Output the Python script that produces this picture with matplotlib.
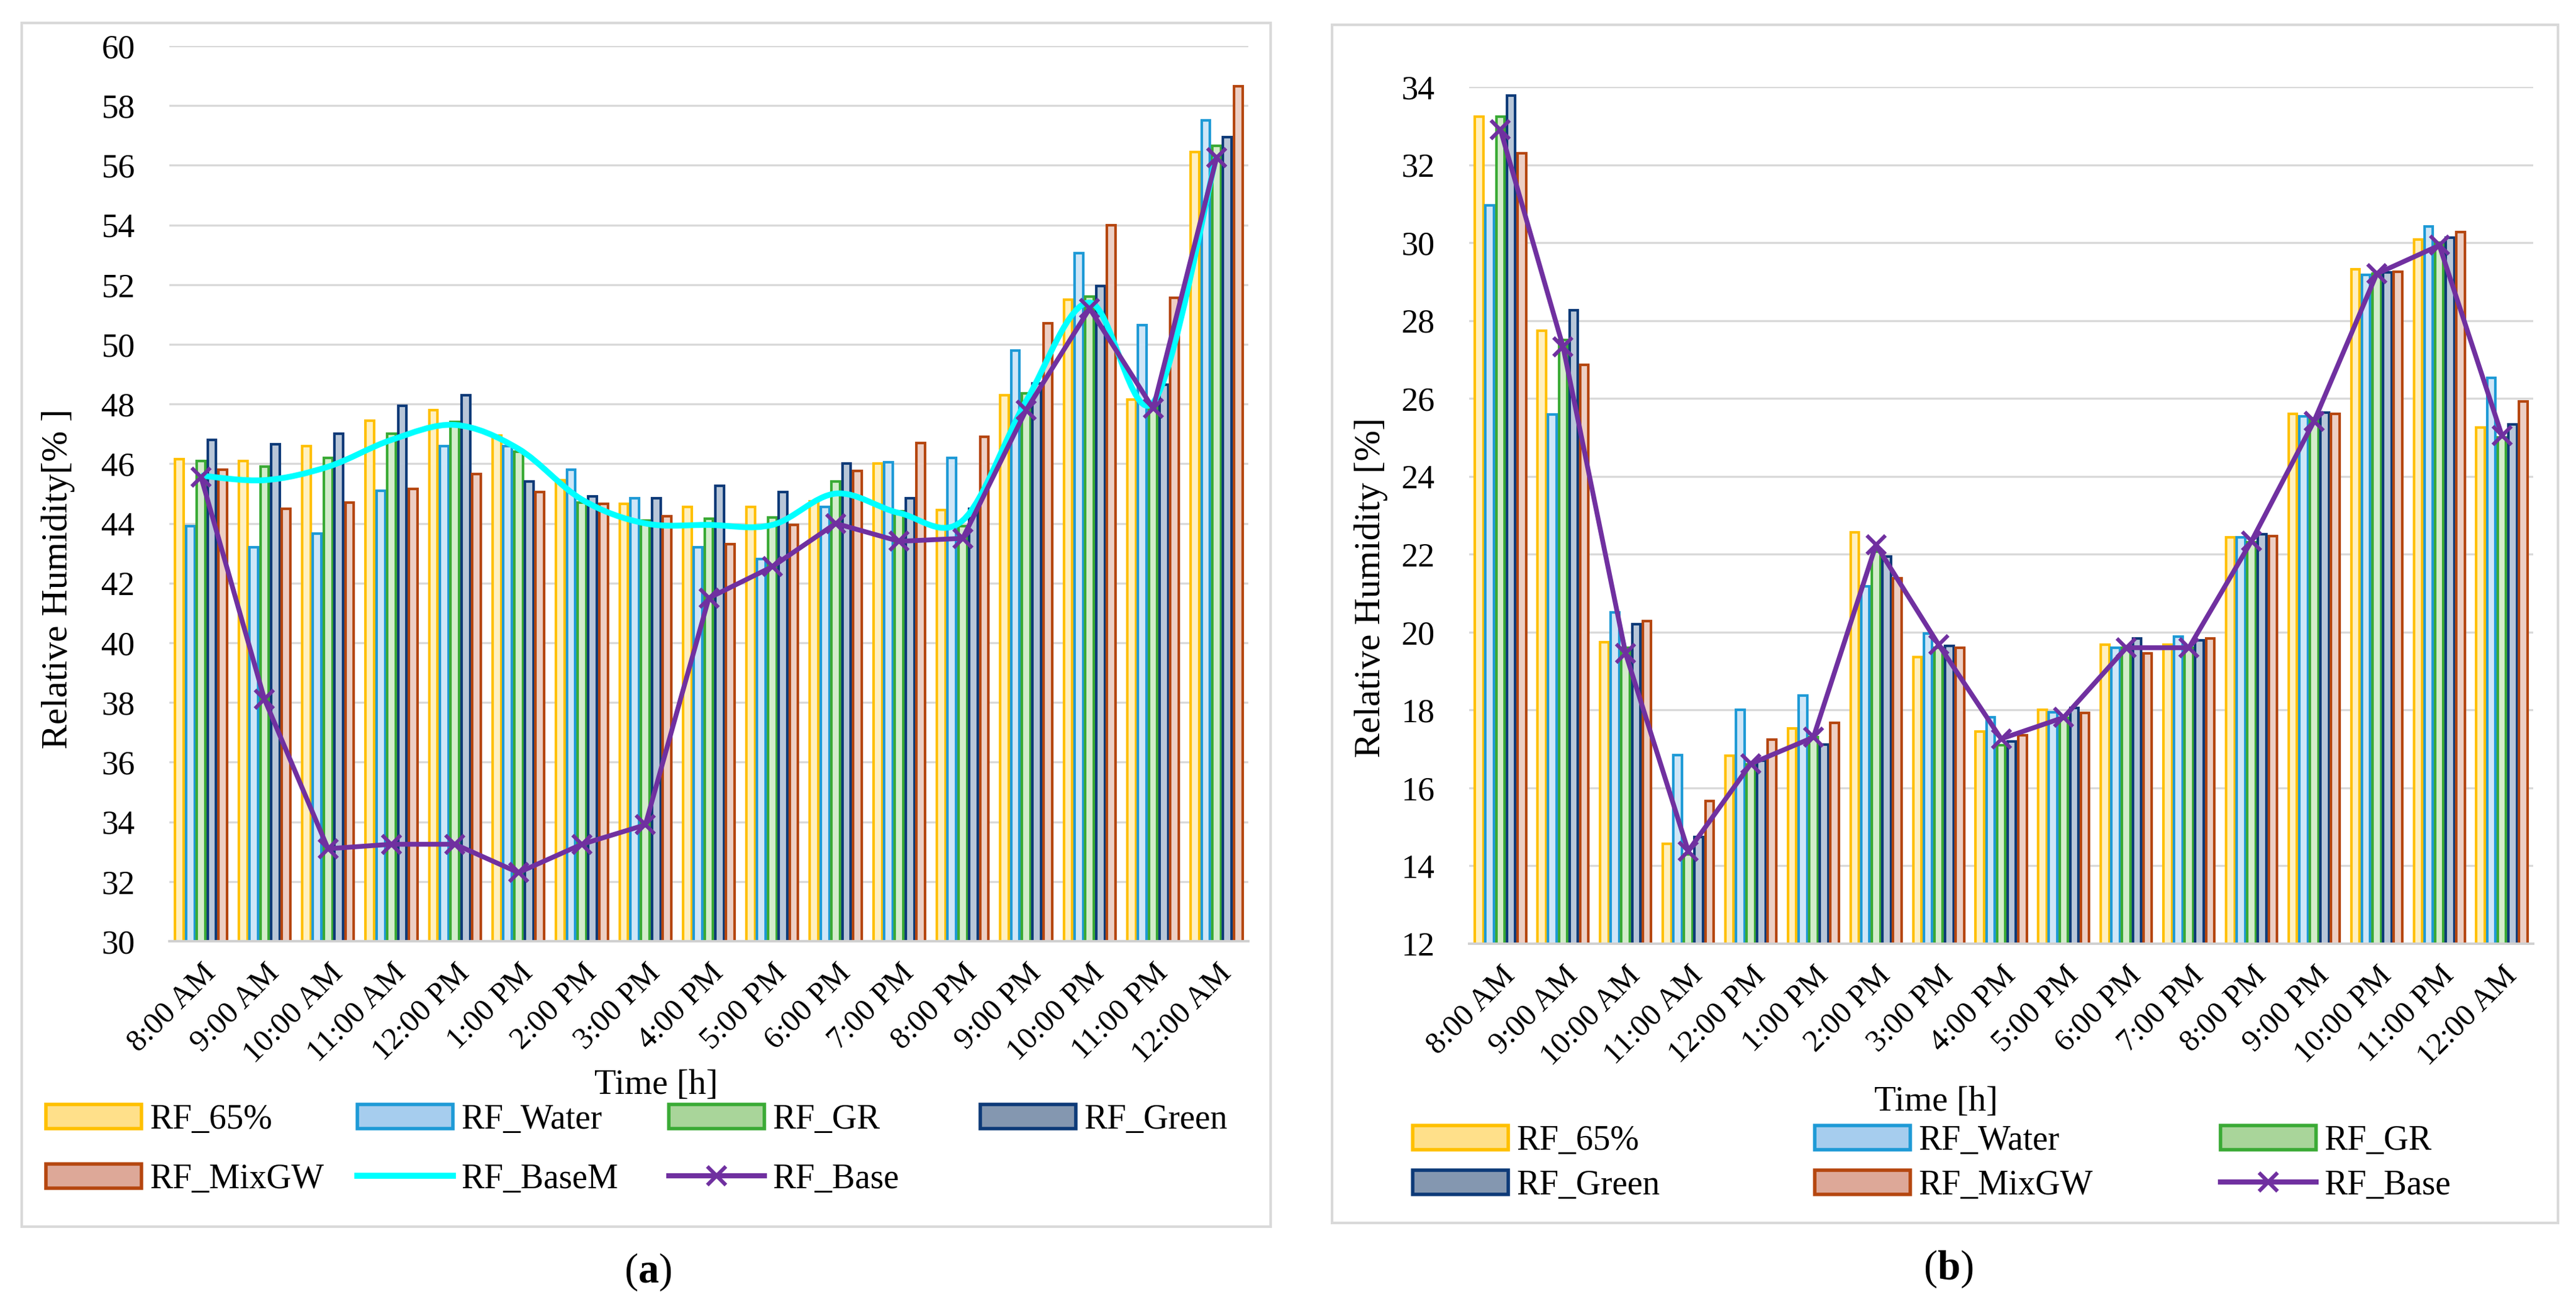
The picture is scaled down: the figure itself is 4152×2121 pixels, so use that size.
import matplotlib
matplotlib.use("Agg")
import matplotlib.pyplot as plt
from matplotlib.patches import Rectangle, Patch, PathPatch
from matplotlib.lines import Line2D
from matplotlib.path import Path
import numpy as np

plt.rcParams["font.family"] = ["Liberation Serif", "DejaVu Serif"]
plt.rcParams["mathtext.fontset"] = "custom"
plt.rcParams["mathtext.rm"] = "Liberation Serif"
plt.rcParams["mathtext.bf"] = "Liberation Serif:bold"

times = ["8:00 AM", "9:00 AM", "10:00 AM", "11:00 AM", "12:00 PM", "1:00 PM",
         "2:00 PM", "3:00 PM", "4:00 PM", "5:00 PM", "6:00 PM", "7:00 PM",
         "8:00 PM", "9:00 PM", "10:00 PM", "11:00 PM", "12:00 AM"]

# panel (a)
a_rf65 = [46.15, 46.1, 46.6, 47.45, 47.8, 46.95, 45.45, 44.65, 44.55, 44.55, 44.75, 46.0, 44.45, 48.3, 51.5, 48.15, 56.45]
a_water = [43.9, 43.2, 43.65, 45.1, 46.6, 46.6, 45.8, 44.85, 43.2, 42.8, 44.55, 46.05, 46.2, 49.8, 53.05, 50.65, 57.5]
a_gr = [46.1, 45.9, 46.2, 47.0, 47.4, 46.4, 44.7, 44.1, 44.15, 44.2, 45.4, 44.4, 43.9, 48.35, 51.6, 48.0, 56.65]
a_green = [46.8, 46.65, 47.0, 47.95, 48.3, 45.4, 44.9, 44.85, 45.25, 45.05, 46.0, 44.85, 44.5, 48.7, 51.95, 48.65, 56.95]
a_mixgw = [45.8, 44.5, 44.7, 45.15, 45.65, 45.05, 44.65, 44.25, 43.3, 43.95, 45.75, 46.7, 46.9, 50.7, 54.0, 51.55, 58.65]
a_basem = [45.6, 45.45, 45.9, 46.8, 47.3, 46.5, 44.8, 44.0, 43.95, 43.95, 45.0, 44.35, 44.1, 48.1, 51.4, 48.05, 56.35]
a_base = [45.55, 38.1, 33.1, 33.25, 33.25, 32.3, 33.25, 33.9, 41.5, 42.55, 44.0, 43.4, 43.5, 47.8, 51.2, 47.85, 56.25]

# panel (b)
b_rf65 = [33.24, 27.74, 19.75, 14.56, 16.83, 17.53, 22.56, 19.36, 17.45, 18.01, 19.68, 19.68, 22.43, 25.6, 29.32, 30.08, 25.26]
b_water = [30.95, 25.59, 20.5, 16.85, 18.0, 18.38, 21.17, 19.96, 17.81, 17.95, 19.6, 19.88, 22.43, 25.54, 29.17, 30.42, 26.53]
b_gr = [33.24, 27.5, 19.6, 14.3, 16.6, 17.3, 22.07, 19.6, 17.1, 17.8, 19.6, 19.6, 22.3, 25.5, 29.2, 30.0, 25.0]
b_green = [33.78, 28.27, 20.21, 14.74, 16.7, 17.12, 21.94, 19.64, 17.2, 18.05, 19.83, 19.79, 22.52, 25.64, 29.24, 30.13, 25.34]
b_mixgw = [32.29, 26.87, 20.28, 15.66, 17.24, 17.67, 21.38, 19.6, 17.35, 17.92, 19.46, 19.84, 22.47, 25.6, 29.26, 30.27, 25.92]
b_base = [32.9, 27.33, 19.45, 14.38, 16.62, 17.3, 22.24, 19.68, 17.26, 17.81, 19.6, 19.6, 22.34, 25.42, 29.2, 29.93, 25.05]

bar_names = ["RF_65%", "RF_Water", "RF_GR", "RF_Green", "RF_MixGW"]
edge_colors = ["#FFC000", "#1E9AD6", "#3AAA35", "#0D3A78", "#B5460F"]
face_colors = ["#FFF0C0", "#CFE6F7", "#D3ECCB", "#B8C6D8", "#EDCFC4"]
legend_faces = ["#FFE08A", "#A6CDEE", "#A9D59A", "#8497B0", "#DDA898"]
CYAN = "#00FFFF"
PURPLE = "#7030A0"
GRID = "#D9D9D9"

W, H = 4152, 2121


def smooth_path(x, y):
    # bezier curve through the points, like excel's smoothed line
    n = len(x)
    verts = [(x[0], y[0])]
    codes = [Path.MOVETO]
    for i in range(n - 1):
        xp, yp = (x[i - 1], y[i - 1]) if i > 0 else (x[i], y[i])
        xn, yn = (x[i + 2], y[i + 2]) if i + 2 < n else (x[i + 1], y[i + 1])
        c1 = (x[i] + (x[i + 1] - xp) / 6, y[i] + (y[i + 1] - yp) / 6)
        c2 = (x[i + 1] - (xn - x[i]) / 6, y[i + 1] - (yn - y[i]) / 6)
        verts += [c1, c2, (x[i + 1], y[i + 1])]
        codes += [Path.CURVE4] * 3
    return Path(verts, codes)


def draw_panel(ax, bars, base, ymin, ymax, basem=None):
    x = np.arange(len(times))
    step, width = 0.17, 0.135
    for k, vals in enumerate(bars):
        ax.bar(x + (k - 2) * step, vals, width, color=face_colors[k],
               edgecolor=edge_colors[k], linewidth=1.5, zorder=2)
    if basem is not None:
        ax.add_patch(PathPatch(smooth_path(x, basem), fill=False, edgecolor=CYAN,
                               lw=3.4, zorder=3))
    ax.plot(x, base, color=PURPLE, lw=2.8, marker="x", ms=11, mew=2.2, zorder=4)

    ax.set_xlim(-0.5, len(times) - 0.5)
    ax.set_ylim(ymin, ymax)
    ax.set_yticks(np.arange(ymin, ymax + 1, 2))
    ax.set_xticks(x)
    ax.set_xticklabels(times, rotation=45, ha="right", rotation_mode="anchor")
    ax.tick_params(axis="x", length=0, pad=10, labelsize=18)
    ax.tick_params(axis="y", length=0, pad=20, labelsize=19.5)
    ax.yaxis.grid(True, color=GRID, lw=1.2)
    ax.set_axisbelow(True)
    for s in ["top", "right", "left"]:
        ax.spines[s].set_visible(False)
    ax.spines["bottom"].set_color("#D0D0D0")
    ax.spines["bottom"].set_linewidth(1.4)


def column_legends(fig, columns, x_px, top_px, spacing):
    for col, xp in zip(columns, x_px):
        handles = [c[0] for c in col]
        labels = [c[1] for c in col]
        fig.legend(handles, labels, loc="upper left",
                   bbox_to_anchor=(xp / W, 1 - top_px / H), frameon=False,
                   fontsize=20, borderpad=0, borderaxespad=0, handlelength=2.77,
                   handleheight=0.72, handletextpad=0.25, labelspacing=spacing)


fig = plt.figure(figsize=(W / 200, H / 200), dpi=200)

# panel frames
fig.add_artist(Rectangle((35 / W, 1 - 1977 / H), 2013 / W, 1940 / H, transform=fig.transFigure,
                         fill=False, edgecolor=GRID, lw=1.5))
fig.add_artist(Rectangle((2147 / W, 1 - 1971 / H), 1976 / W, 1931 / H, transform=fig.transFigure,
                         fill=False, edgecolor=GRID, lw=1.5))

ax1 = fig.add_axes([273 / W, 1 - 1517 / H, 1739 / W, 1443 / H])
draw_panel(ax1, [a_rf65, a_water, a_gr, a_green, a_mixgw], a_base, 30, 60, basem=a_basem)
ax1.set_ylabel("Relative Humidity[% ]", fontsize=21.5, va="center")
ax1.yaxis.set_label_coords(-0.103, 0.405)
ax1.set_xlabel("Time [h]", fontsize=20.5, va="center")
ax1.xaxis.set_label_coords(0.451, -0.161)

ax2 = fig.add_axes([2368 / W, 1 - 1521 / H, 1715 / W, 1381 / H])
draw_panel(ax2, [b_rf65, b_water, b_gr, b_green, b_mixgw], b_base, 12, 34)
ax2.set_ylabel("Relative Humidity [%]", fontsize=21.5, va="center")
ax2.yaxis.set_label_coords(-0.092, 0.4156)
ax2.set_xlabel("Time [h]", fontsize=20.5, va="center")
ax2.xaxis.set_label_coords(0.439, -0.185)

bar_handles = [Patch(facecolor=legend_faces[k], edgecolor=edge_colors[k], lw=2.0) for k in range(5)]
basem_handle = Line2D([], [], color=CYAN, lw=3.5)
base_handle = Line2D([], [], color=PURPLE, lw=3.0, marker="x", ms=11, mew=2.2)
entries = list(zip(bar_handles, bar_names))

column_legends(fig, [[entries[0], entries[4]], [entries[1], (basem_handle, "RF_BaseM")],
                     [entries[2], (base_handle, "RF_Base")], [entries[3]]],
               [74, 576, 1078, 1580], 1779, 0.79)
column_legends(fig, [[entries[0], entries[3]], [entries[1], entries[4]],
                     [entries[2], (base_handle, "RF_Base")]],
               [2277, 2925, 3579], 1813, 0.36)

fig.text(1044 / W, 1 - 2050 / H, r"($\mathbf{a}$)", fontsize=24, ha="center", va="center")
fig.text(3140 / W, 1 - 2045 / H, r"($\mathbf{b}$)", fontsize=24, ha="center", va="center")

fig.savefig("out.png", dpi=200)
